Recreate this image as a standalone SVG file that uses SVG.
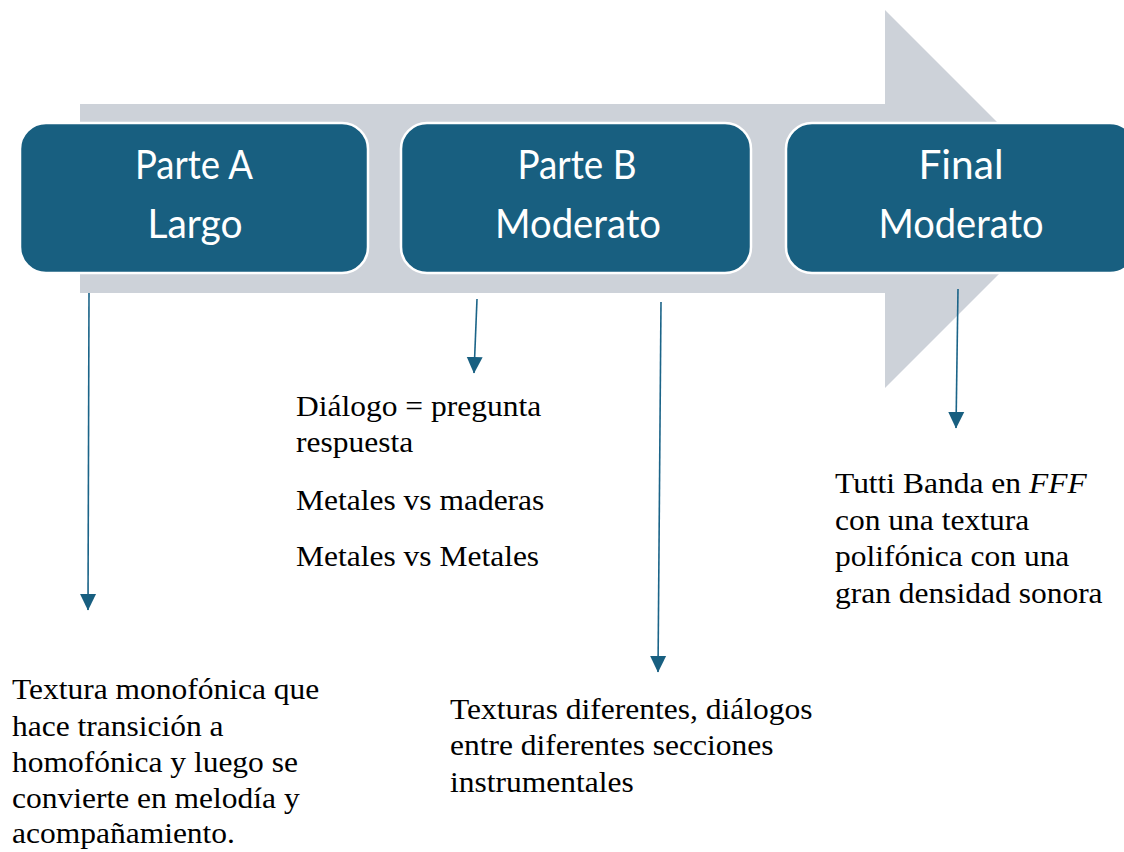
<svg xmlns="http://www.w3.org/2000/svg" width="1124" height="852" viewBox="0 0 1124 852">
  <style>
    .box { fill: #185f80; stroke: #ffffff; stroke-width: 2.5; }
    .boxtxt { font-family: Lato, "Open Sans", sans-serif; font-size: 40px; fill: #ffffff; text-anchor: middle; }
    .body { font-family: "Liberation Serif", "Times New Roman", serif; font-size: 30px; fill: #000000; }
    .conn { stroke: #1b6488; stroke-width: 1.6; fill: none; marker-end: url(#head); }
  </style>
  <defs>
    <marker id="head" markerUnits="userSpaceOnUse" markerWidth="17" markerHeight="17" viewBox="0 0 17 17" refX="16" refY="8.5" orient="auto">
      <path d="M0,0.5 L16.5,8.5 L0,16.5 Z" fill="#185f80"/>
    </marker>
  </defs>
  <rect width="1124" height="852" fill="#ffffff"/>

  <g id="bigArrow">
    <polygon points="80,104 885,104 885,10 1074,199 885,388 885,293 80,293" fill="#cdd2d9"/>
  </g>

  <g id="connectors">
    <line class="conn" x1="89" y1="293" x2="88" y2="610"/>
    <line class="conn" x1="477" y1="299" x2="474" y2="373"/>
    <line class="conn" x1="661" y1="302" x2="658" y2="672"/>
    <line class="conn" x1="958" y1="289" x2="956" y2="428"/>
  </g>

  <g id="nodeA">
    <rect class="box" x="20" y="123" width="348" height="150" rx="26"/>
    <text class="boxtxt" x="194" y="179" textLength="118" lengthAdjust="spacingAndGlyphs">Parte A</text>
    <text class="boxtxt" x="195" y="238" textLength="95" lengthAdjust="spacingAndGlyphs">Largo</text>
  </g>
  <g id="nodeB">
    <rect class="box" x="401" y="123" width="350" height="150" rx="26"/>
    <text class="boxtxt" x="577" y="179" textLength="119" lengthAdjust="spacingAndGlyphs">Parte B</text>
    <text class="boxtxt" x="578" y="238" textLength="166" lengthAdjust="spacingAndGlyphs">Moderato</text>
  </g>
  <g id="nodeFinal">
    <rect class="box" x="786" y="123" width="350" height="150" rx="26"/>
    <text class="boxtxt" x="961" y="179" textLength="85" lengthAdjust="spacingAndGlyphs">Final</text>
    <text class="boxtxt" x="961" y="238" textLength="165" lengthAdjust="spacingAndGlyphs">Moderato</text>
  </g>

  <g id="textB1" transform="translate(296,0) scale(1.05,1)">
    <text class="body" x="0" y="416">Diálogo = pregunta</text>
    <text class="body" x="0" y="452.5">respuesta</text>
    <text class="body" x="0" y="510.5">Metales vs maderas</text>
    <text class="body" x="0" y="566.5">Metales vs Metales</text>
  </g>

  <g id="textFinal" transform="translate(835,0) scale(1.05,1)">
    <text class="body" x="0" y="493">Tutti Banda en <tspan font-style="italic">FFF</tspan></text>
    <text class="body" x="0" y="530">con una textura</text>
    <text class="body" x="0" y="566.5">polifónica con una</text>
    <text class="body" x="0" y="603">gran densidad sonora</text>
  </g>

  <g id="textA" transform="translate(12,0) scale(1.05,1)">
    <text class="body" x="0" y="699.5">Textura monofónica que</text>
    <text class="body" x="0" y="736">hace transición a</text>
    <text class="body" x="0" y="772">homofónica y luego se</text>
    <text class="body" x="0" y="808">convierte en melodía y</text>
    <text class="body" x="0" y="843">acompañamiento.</text>
  </g>

  <g id="textB2" transform="translate(450,0) scale(1.05,1)">
    <text class="body" x="0" y="719.5">Texturas diferentes, diálogos</text>
    <text class="body" x="0" y="755">entre diferentes secciones</text>
    <text class="body" x="0" y="792.5">instrumentales</text>
  </g>
</svg>
